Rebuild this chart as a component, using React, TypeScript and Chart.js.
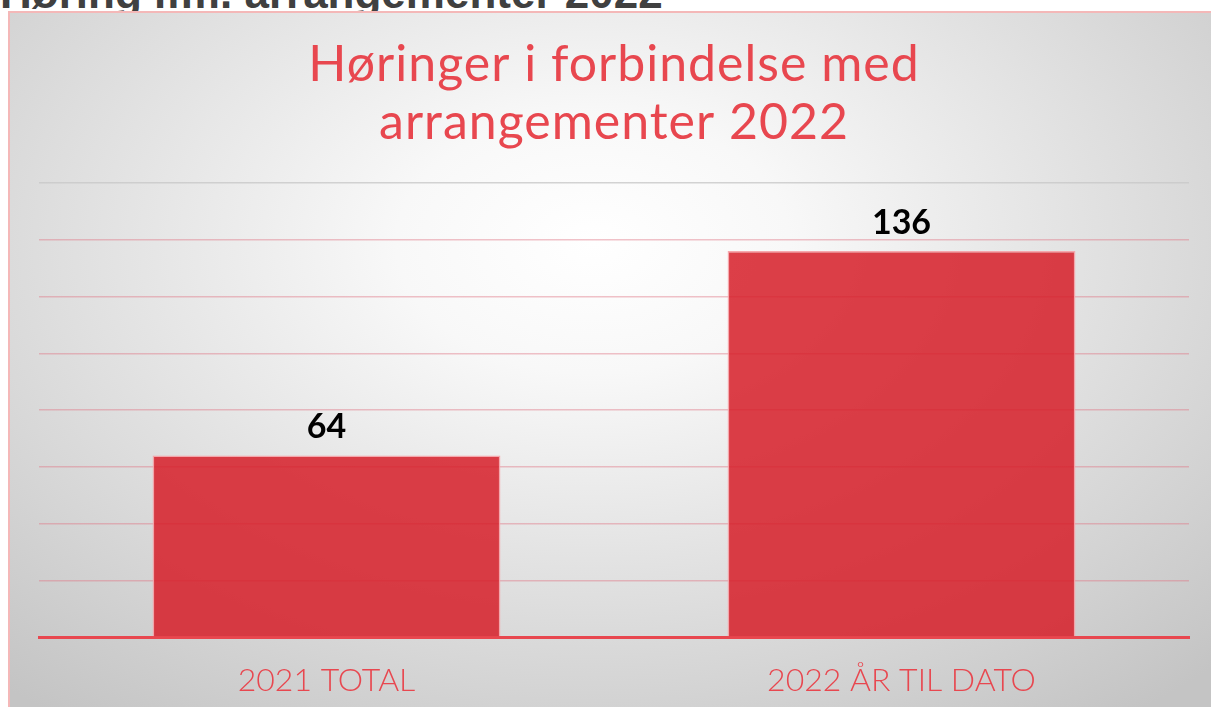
import React, { useEffect, useRef } from "react";
import { Chart, registerables } from "chart.js";

Chart.register(...registerables);

const categories = ["2021 TOTAL", "2022 ÅR TIL DATO"];
const values = [64, 136];
const titleLines = ["Høringer i forbindelse med", "arrangementer 2022"];
const headingText = "Høring ifm. arrangementer 2022";
const yMax = 160;
const yStep = 20;

const RED = "#e8474f";

const valueLabelPlugin = {
  id: "valueLabels",
  afterDatasetsDraw(chart: any) {
    const { ctx } = chart;
    const meta = chart.getDatasetMeta(0);
    ctx.save();
    ctx.font = "bold 34px Lato, 'DejaVu Sans', sans-serif";
    ctx.fillStyle = "#000";
    ctx.textAlign = "center";
    ctx.textBaseline = "alphabetic";
    meta.data.forEach((bar: any, i: number) => {
      ctx.fillText(String(chart.data.datasets[0].data[i]), bar.x, bar.y - 17);
    });
    ctx.restore();
  },
};

const titlePlugin = {
  id: "customTitle",
  afterDraw(chart: any) {
    const { ctx, chartArea } = chart;
    const cx = (chartArea.left + chartArea.right) / 2;
    ctx.save();
    ctx.font = "400 50px Lato, 'DejaVu Sans', sans-serif";
    (ctx as any).letterSpacing = "1px";
    ctx.fillStyle = RED;
    ctx.textAlign = "center";
    ctx.textBaseline = "alphabetic";
    titleLines.forEach((line, i) => {
      ctx.fillText(line, cx, 81 + i * 58);
    });
    ctx.restore();
  },
};

export default function App() {
  const ref = useRef<HTMLCanvasElement>(null);
  useEffect(() => {
    if (!ref.current) return;
    const chart = new Chart(ref.current, {
      type: "bar",
      data: {
        labels: categories,
        datasets: [
          {
            data: values,
            backgroundColor: "rgba(214, 32, 42, 0.86)",
            borderColor: "rgba(245, 160, 165, 0.9)",
            borderWidth: 1.5,
            barPercentage: 0.605,
            categoryPercentage: 1,
          },
        ],
      },
      options: {
        responsive: false,
        animation: false,
        maintainAspectRatio: false,
        layout: { padding: { left: 39, right: 22, top: 183, bottom: -10 } },
        plugins: {
          legend: { display: false },
          tooltip: { enabled: false },
          title: { display: false },
        },
        scales: {
          x: {
            grid: { display: false },
            border: { display: true, color: RED, width: 3 },
            ticks: {
              color: RED,
              padding: 24,
              font: { family: "Lato, 'DejaVu Sans', sans-serif", size: 32, weight: "300" as any, lineHeight: 0.75 },
            },
          },
          y: {
            min: 0,
            max: yMax,
            z: 1,
            ticks: { display: false, stepSize: yStep },
            border: { display: false },
            grid: {
              color: (c: any) =>
                c.tick && c.tick.value === yMax
                  ? "rgba(200, 200, 200, 0.8)"
                  : c.tick && c.tick.value === 0
                  ? "rgba(0,0,0,0)"
                  : "rgba(225, 120, 135, 0.45)",
              lineWidth: 1.5,
              drawTicks: false,
            },
          },
        },
      },
      plugins: [valueLabelPlugin, titlePlugin],
    });
    return () => chart.destroy();
  }, []);

  return (
    <div
      style={{
        position: "fixed",
        left: 0,
        top: 0,
        width: 1211,
        height: 707,
        overflow: "hidden",
        background: "#fff",
      }}
    >
      <div
        style={{
          position: "absolute",
          left: 0,
          top: -29,
          fontFamily: "'Liberation Sans', Arial, sans-serif",
          fontWeight: "bold",
          fontSize: 44,
          lineHeight: "44px",
          color: "#404040",
          whiteSpace: "nowrap",
        }}
      >
        {headingText}
      </div>
      <div
        style={{
          position: "absolute",
          left: 8,
          top: 11,
          width: 1240,
          height: 720,
          borderTop: "2px solid #f4b8b8",
          borderLeft: "2px solid #f4b8b8",
          background:
            "radial-gradient(ellipse 72% 82% at 47% 32%, #ffffff 0%, #f8f8f8 22%, #e0e0e0 58%, #c4c4c4 100%)",
        }}
      />
      <canvas
        ref={ref}
        width={1211}
        height={707}
        style={{ position: "absolute", left: 0, top: 0, width: 1211, height: 707 }}
      />
    </div>
  );
}
